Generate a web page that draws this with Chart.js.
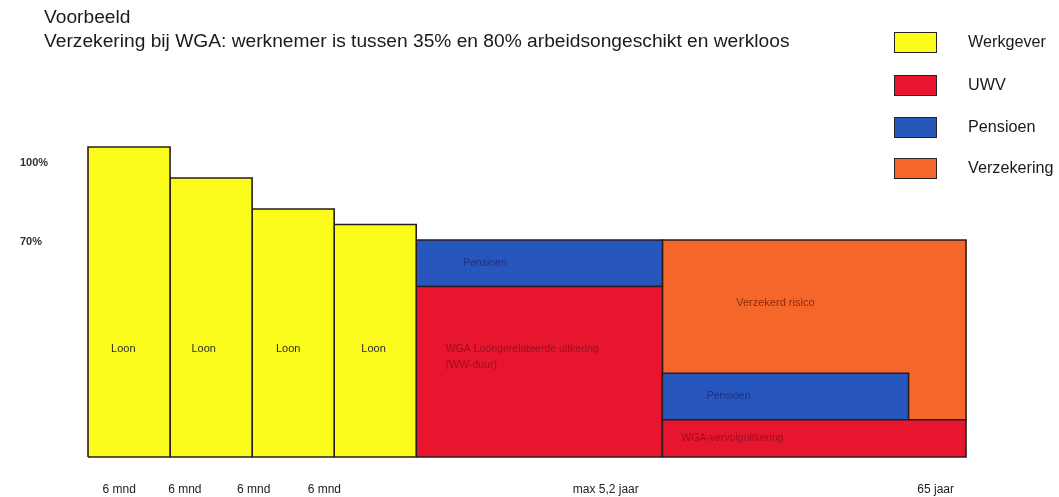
<!DOCTYPE html>
<html>
<head>
<meta charset="utf-8">
<script src="https://cdn.jsdelivr.net/npm/chart.js@4/dist/chart.umd.min.js"></script>
<style>
  html, body { margin: 0; padding: 0; background: #ffffff; }
  #wrap { position: relative; width: 1059px; height: 497px; overflow: hidden; font-family: "Liberation Sans", Arial, sans-serif; }
  #c { position: absolute; left: 0; top: 0; }
  .title { position: absolute; left: 44px; font-size: 19.2px; color: #1a1a1a; white-space: nowrap; line-height: 20px; }
  .lg-box { position: absolute; left: 894px; width: 43px; height: 21px; border: 1.5px solid #2a2222; box-sizing: border-box; }
  .lg-txt { position: absolute; left: 968px; font-size: 16.2px; color: #1a1a1a; line-height: 20px; white-space: nowrap; }
</style>
</head>
<body>
<div id="wrap">
  <canvas id="c" width="1059" height="497"></canvas>
  <div class="title" style="top:7px">Voorbeeld</div>
  <div class="title" style="top:31px">Verzekering bij WGA: werknemer is tussen 35% en 80% arbeidsongeschikt en werkloos</div>
  <div id="legend"></div>
</div>
<script>
// ---------- data ----------
const periodLabels = ['6 mnd', '6 mnd', '6 mnd', '6 mnd', 'max 5,2 jaar', '65 jaar'];
const segmentEdges = [0, 1, 2, 3, 4, 7, 10.7];          // period boundaries (relative time units)
const loonLevels = [100, 90, 80, 75];                    // Werkgever: Loon per 6-month period (%)
const wgaLoonLevel = 55;                                 // UWV: WGA loongerelateerde uitkering (%)
const pensioenTop = 70;                                  // Pensioen on top of WGA (%)
const vervolgLevel = 12;                                 // UWV: WGA-vervolguitkering (%)
const pensioen2Top = 27;                                 // Pensioen during vervolg (%)
const pensioen2End = 10;                                 // end of pensioen block (time units)
const verzekerdTop = 70;                                 // Verzekering: verzekerd risico up to (%)
const yTickLabels = ['100%', '70%'];
const legendLabels = ['Werkgever', 'UWV', 'Pensioen', 'Verzekering'];

// ---------- styles ----------
const COL = { Werkgever: '#fbfb1c', UWV: '#e8152e', Pensioen: '#2757bd', Verzekering: '#f4662a' };
const EDGE = '#2a1c1c';

// rectangles built from the data arrays
const rects = [];
loonLevels.forEach((v, i) => rects.push({ cat: 'Werkgever', x0: segmentEdges[i], x1: segmentEdges[i + 1], y0: 0, y1: v, order: 5 }));
rects.push({ cat: 'UWV', x0: segmentEdges[4], x1: segmentEdges[5], y0: 0, y1: wgaLoonLevel, order: 5 });
rects.push({ cat: 'Pensioen', x0: segmentEdges[4], x1: segmentEdges[5], y0: wgaLoonLevel, y1: pensioenTop, order: 5 });
rects.push({ cat: 'Verzekering', x0: segmentEdges[5], x1: segmentEdges[6], y0: vervolgLevel, y1: verzekerdTop, order: 9 });
rects.push({ cat: 'Pensioen', x0: segmentEdges[5], x1: pensioen2End, y0: vervolgLevel, y1: pensioen2Top, order: 3 });
rects.push({ cat: 'UWV', x0: segmentEdges[5], x1: segmentEdges[6], y0: 0, y1: vervolgLevel, order: 1 });

const datasets = rects.map(r => ({
  label: r.cat,
  data: [{x: r.x0, y: r.y0}, {x: r.x0, y: r.y1}, {x: r.x1, y: r.y1}, {x: r.x1, y: r.y0}, {x: r.x0, y: r.y0}],
  showLine: true,
  fill: 'shape',
  backgroundColor: COL[r.cat],
  borderColor: EDGE,
  borderWidth: 1.6,
  borderJoinStyle: 'miter',
  tension: 0,
  pointRadius: 0,
  pointHoverRadius: 0,
  clip: false,
  order: r.order
}));

// text inside the blocks (anchored in data units)
const blockTexts = [
  { t: 'Loon', x: 0.43, y: 35, c: '#2a2a2a', a: 'center', f: 11 },
  { t: 'Loon', x: 1.41, y: 35, c: '#2a2a2a', a: 'center', f: 11 },
  { t: 'Loon', x: 2.44, y: 35, c: '#2a2a2a', a: 'center', f: 11 },
  { t: 'Loon', x: 3.48, y: 35, c: '#2a2a2a', a: 'center', f: 11 },
  { t: 'Pensioen', x: 4.57, y: 62.6, c: '#1d2f80', a: 'left', f: 10.5 },
  { t: 'WGA Loongerelateerde uitkering', x: 4.36, y: 34.8, c: '#9c0e1e', a: 'left', f: 10.5 },
  { t: '(WW-duur)', x: 4.36, y: 29.7, c: '#9c0e1e', a: 'left', f: 10.5 },
  { t: 'Verzekerd risico', x: 7.9, y: 49.7, c: '#8c2a0c', a: 'left', f: 11 },
  { t: 'Pensioen', x: 7.54, y: 19.7, c: '#1d2f80', a: 'left', f: 10.5 },
  { t: 'WGA-vervolguitkering', x: 7.23, y: 6.1, c: '#9c0e1e', a: 'left', f: 10.5 }
];

const textPlugin = {
  id: 'blockTexts',
  afterDatasetsDraw(chart) {
    const ctx = chart.ctx, xs = chart.scales.x, ys = chart.scales.y;
    ctx.save();
    ctx.textBaseline = 'middle';
    blockTexts.forEach(b => {
      ctx.font = b.f + 'px "Liberation Sans", Arial, sans-serif';
      ctx.fillStyle = b.c;
      ctx.textAlign = b.a;
      ctx.fillText(b.t, xs.getPixelForValue(b.x), ys.getPixelForValue(b.y));
    });
    ctx.restore();
  }
};

// label anchors of the period ticks and level ticks
const xLabelAnchors = [0.38, 1.18, 2.02, 2.88, 6.31, 10.33];
const yLabelAnchors = [94.8, 69.4];

new Chart(document.getElementById('c'), {
  type: 'scatter',
  data: { datasets },
  options: {
    responsive: false,
    animation: false,
    events: [],
    layout: { padding: { left: 20, top: 147, right: 93, bottom: 0 } },
    plugins: { legend: { display: false }, tooltip: { enabled: false }, title: { display: false } },
    scales: {
      x: {
        type: 'linear', min: segmentEdges[0], max: segmentEdges[segmentEdges.length - 1],
        grid: { display: false, drawTicks: false }, border: { display: false },
        afterBuildTicks: s => { s.ticks = xLabelAnchors.map(v => ({ value: v })); },
        afterFit: s => { s.height = 40; },
        ticks: {
          autoSkip: false, maxRotation: 0, padding: 25, color: '#222',
          font: { family: '"Liberation Sans", Arial, sans-serif', size: 12 },
          callback: (v, i) => periodLabels[i]
        }
      },
      y: {
        type: 'linear', min: 0, max: 100,
        grid: { display: false, drawTicks: false }, border: { display: false },
        afterBuildTicks: s => { s.ticks = yLabelAnchors.map(v => ({ value: v })); },
        afterFit: s => { s.width = 68; },
        ticks: {
          autoSkip: false, crossAlign: 'far', padding: 0, color: '#333',
          font: { family: '"Liberation Sans", Arial, sans-serif', size: 11, weight: 'bold' },
          callback: (v, i) => yTickLabels[i]
        }
      }
    }
  },
  plugins: [textPlugin]
});

// legend
const lg = document.getElementById('legend');
const boxTops = [32, 75, 117, 158];
legendLabels.forEach((name, i) => {
  const b = document.createElement('div');
  b.className = 'lg-box';
  b.style.top = boxTops[i] + 'px';
  b.style.background = COL[name];
  lg.appendChild(b);
  const t = document.createElement('div');
  t.className = 'lg-txt';
  t.style.top = (boxTops[i] - 1) + 'px';
  t.textContent = name;
  lg.appendChild(t);
});
</script>
</body>
</html>
